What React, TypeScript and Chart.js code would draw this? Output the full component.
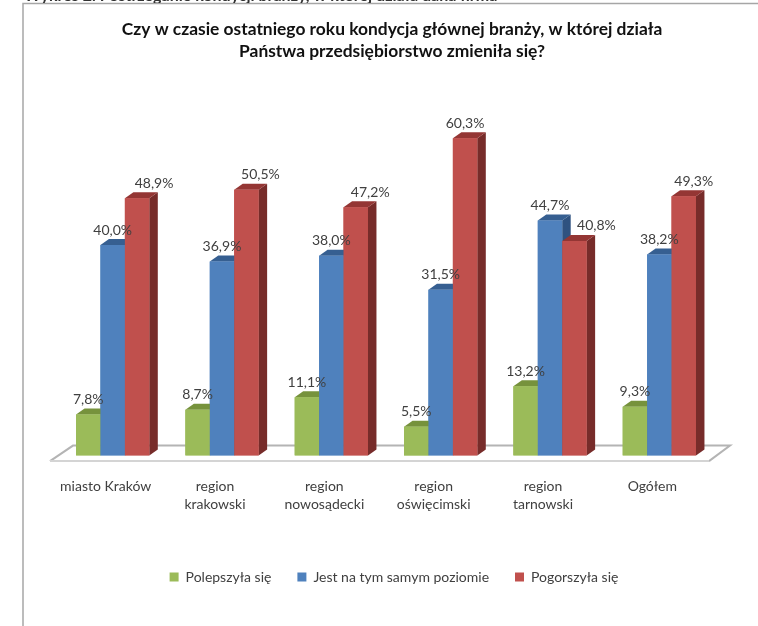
import React, { useEffect, useRef } from "react";
import { Chart, registerables } from "chart.js";

Chart.register(...registerables);

const categories: string[][] = [
  ["miasto Kraków"],
  ["region", "krakowski"],
  ["region", "nowosądecki"],
  ["region", "oświęcimski"],
  ["region", "tarnowski"],
  ["Ogółem"],
];
const improved = [7.8, 8.7, 11.1, 5.5, 13.2, 9.3];
const same = [40.0, 36.9, 38.0, 31.5, 44.7, 38.2];
const worse = [48.9, 50.5, 47.2, 60.3, 40.8, 49.3];
const seriesNames = ["Polepszyła się", "Jest na tym samym poziomie", "Pogorszyła się"];
const titleLines = [
  "Czy w czasie ostatniego roku kondycja głównej branży, w której działa",
  "Państwa przedsiębiorstwo zmieniła się?",
];
const clippedCaption = "Wykres 2. Postrzeganie kondycji branży, w której działa dana firma";

// styling only
const frontColors = ["#9BBB59", "#4F81BD", "#C0504D"];
const topColors = ["#76923C", "#365F91", "#943634"];
const sideColors = ["#6B8535", "#2F5280", "#772C2A"];
const labelShiftX = [
  [0, 0, 0, 0, 0, 0],
  [0, 0, 0, 0, 0, 0],
  [17, 14, 14.5, 0, 22, 10],
];
const DX = 8.5;
const DY = 6;
const TEXT = "#404040";

const fmt = (v: number) => v.toFixed(1).replace(".", ",") + "%";

function poly(ctx: CanvasRenderingContext2D, pts: number[][], fill: string) {
  ctx.beginPath();
  pts.forEach(([x, y], i) => (i ? ctx.lineTo(x, y) : ctx.moveTo(x, y)));
  ctx.closePath();
  ctx.fillStyle = fill;
  ctx.fill();
}

const page3d = {
  id: "page3d",
  afterLayout(chart: any) {
    // centre the title and legend on the picture's own axis
    chart.titleBlock.left += 6;
    chart.titleBlock.right += 6;
    chart.legend.left += 8;
    chart.legend.right += 8;
  },
  beforeDraw(chart: any) {
    const { ctx, width, height } = chart;
    ctx.save();
    ctx.fillStyle = "#ffffff";
    ctx.fillRect(0, 0, width, height);
    ctx.strokeStyle = "#a6a6a6";
    ctx.lineWidth = 1.5;
    ctx.beginPath();
    ctx.moveTo(width, 3.5);
    ctx.lineTo(23, 3.5);
    ctx.lineTo(23, height);
    ctx.stroke();
    ctx.beginPath();
    ctx.rect(0, 0, width, 3);
    ctx.clip();
    ctx.fillStyle = "#333333";
    ctx.font = "bold 16px Lato";
    ctx.textBaseline = "alphabetic";
    ctx.fillText(clippedCaption, 24, 0.5);
    ctx.restore();
  },
  beforeDatasetsDraw(chart: any) {
    const { ctx, chartArea: a } = chart;
    const left = a.left - 8;
    const right = a.right - 5;
    const front = a.bottom + 5.5;
    const back = a.bottom - 10;
    ctx.save();
    ctx.lineWidth = 2;
    ctx.strokeStyle = "#b4b4b4";
    ctx.beginPath();
    ctx.moveTo(left, front);
    ctx.lineTo(left + 23, back);
    ctx.lineTo(right + 21, back);
    ctx.lineTo(right, front);
    ctx.stroke();
    ctx.strokeStyle = "#d4d4d4";
    ctx.beginPath();
    ctx.moveTo(left, front);
    ctx.lineTo(right, front);
    ctx.stroke();
    ctx.restore();
  },
  afterDatasetsDraw(chart: any) {
    const { ctx } = chart;
    ctx.save();
    chart.data.datasets.forEach((_: any, d: number) => {
      chart.getDatasetMeta(d).data.forEach((bar: any) => {
        const { x, y, base, width: w } = bar.getProps(["x", "y", "base", "width"], true);
        const l = x - w / 2;
        const r = x + w / 2;
        poly(ctx, [[r, y], [r + DX, y - DY], [r + DX, base - DY], [r, base]], sideColors[d]);
        poly(ctx, [[l, y], [l + DX, y - DY], [r + DX, y - DY], [r, y]], topColors[d]);
        bar.draw(ctx);
      });
    });
    ctx.font = "14px Lato";
    ctx.fillStyle = TEXT;
    ctx.textAlign = "center";
    ctx.textBaseline = "middle";
    chart.data.datasets.forEach((ds: any, d: number) => {
      chart.getDatasetMeta(d).data.forEach((bar: any, i: number) => {
        ctx.fillText(fmt(ds.data[i]), bar.x + labelShiftX[d][i], bar.y - 15);
      });
    });
    ctx.restore();
  },
};

export default function App() {
  const ref = useRef<HTMLCanvasElement>(null);
  useEffect(() => {
    document.body.style.margin = "0";
    const chart = new Chart(ref.current!, {
      type: "bar",
      data: {
        labels: categories,
        datasets: [improved, same, worse].map((data, i) => ({
          label: seriesNames[i],
          data,
          backgroundColor: frontColors[i],
          borderWidth: 0,
          categoryPercentage: 0.67,
          barPercentage: 1,
        })),
      },
      options: {
        responsive: false,
        animation: false,
        devicePixelRatio: 1,
        layout: { padding: { left: 58, right: 44, top: 0, bottom: 32 } },
        plugins: {
          tooltip: { enabled: false },
          title: {
            display: true,
            text: titleLines,
            color: "#111111",
            font: { family: "Lato", size: 17.4, weight: "bold", lineHeight: 1.27 },
            padding: { top: 18, bottom: 24 },
          },
          legend: {
            position: "bottom",
            labels: {
              color: TEXT,
              font: { family: "Lato", size: 14 },
              boxWidth: 9,
              boxHeight: 9,
              padding: 26,
            },
          },
        },
        scales: {
          x: {
            grid: { display: false, drawTicks: false },
            border: { display: false },
            afterFit(scale: any) {
              scale.height += 8;
            },
            ticks: {
              color: TEXT,
              font: { family: "Lato", size: 14, lineHeight: 1.3 },
              padding: 22,
              labelOffset: -7,
              maxRotation: 0,
              autoSkip: false,
            },
          },
          y: { display: false, min: 0, max: 70.2 },
        },
      },
      plugins: [page3d],
    });
    return () => chart.destroy();
  }, []);
  return (
    <canvas
      ref={ref}
      width={758}
      height={626}
      style={{ display: "block", width: 758, height: 626, filter: "blur(0.5px)" }}
    />
  );
}
